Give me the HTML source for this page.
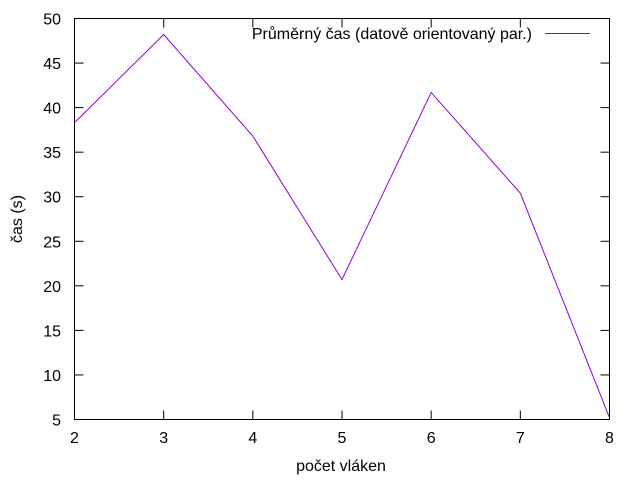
<!DOCTYPE html>
<html><head><meta charset="utf-8"><style>
body{margin:0;background:#fff}
svg{display:block}
text{font-family:"Liberation Sans",sans-serif;font-size:16px;fill:#000}
</style></head><body>
<svg width="640" height="480" id="c">
<rect x="74.5" y="18.5" width="535" height="401" fill="none" stroke="#000" stroke-width="1"/>
<g id="axes"></g>
<text x="341" y="471" text-anchor="middle">počet vláken</text>
<text transform="translate(22,219) rotate(-90)" text-anchor="middle">čas (s)</text>
<g>
<text x="532" y="39" text-anchor="end">Průměrný čas (datově orientovaný par.)</text>
<line x1="545" y1="33.5" x2="590" y2="33.5" stroke="#9400d3" stroke-width="1"/>
</g>
<path id="line" fill="none" stroke="#9400d3" stroke-width="1"/>
</svg>
<script>
const categories=[2,3,4,5,6,7,8];
const values=[38.3,48.2,36.8,20.7,41.7,30.4,5.2];
const yTicks=[5,10,15,20,25,30,35,40,45,50];
const xTicks=[2,3,4,5,6,7,8];
const X0=74.5,X1=609.5,Y0=419.5,Y1=18.5;
const xs=v=>X0+(v-2)/6*(X1-X0);
const ys=v=>Y0-(v-5)/45*(Y0-Y1);
const NS="http://www.w3.org/2000/svg";
const g=document.getElementById('axes');
function mk(t,a){const e=document.createElementNS(NS,t);for(const k in a)e.setAttribute(k,a[k]);return e;}
yTicks.forEach(v=>{const y=ys(v);
const l1=mk('line',{x1:X0,y1:y,x2:X0+9,y2:y,stroke:'#000'});

g.appendChild(l1);
const l2=mk('line',{x1:X1,y1:y,x2:X1-9,y2:y,stroke:'#000'});

g.appendChild(l2);
const t=mk('text',{x:61,y:y+6,'text-anchor':'end'});t.textContent=v;

g.appendChild(t);});
xTicks.forEach(v=>{const x=xs(v);
const l1=mk('line',{x1:x,y1:Y0,x2:x,y2:Y0-9,stroke:'#000'});

g.appendChild(l1);
const l2=mk('line',{x1:x,y1:Y1,x2:x,y2:Y1+9,stroke:'#000'});

g.appendChild(l2);
const t=mk('text',{x:x,y:443,'text-anchor':'middle'});t.textContent=v;

g.appendChild(t);});
document.getElementById('line').setAttribute('d',categories.map((c,i)=>(i?'L':'M')+xs(c)+','+ys(values[i])).join(' '));
</script>
</body></html>
